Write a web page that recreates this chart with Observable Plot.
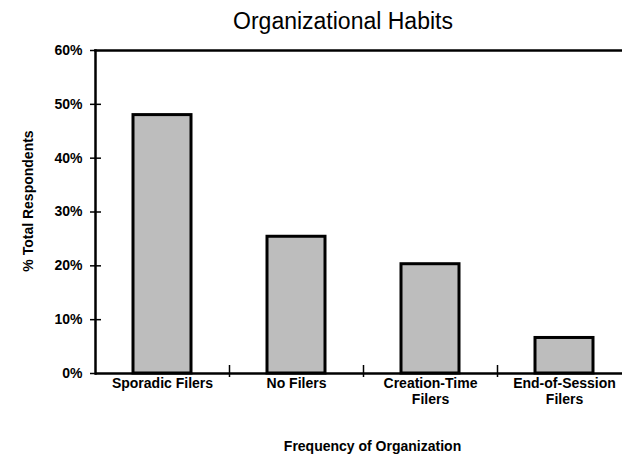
<!DOCTYPE html>
<html><head><meta charset="utf-8">
<script src="https://cdn.jsdelivr.net/npm/d3@7"></script>
<script src="https://cdn.jsdelivr.net/npm/@observablehq/plot@0.6"></script>
<style>
body{margin:0;background:#fff;font-family:"Liberation Sans",Arial,sans-serif;}
#title{box-sizing:border-box;width:622px;height:40px;padding-top:9.5px;padding-left:64px;text-align:center;font-size:23px;line-height:23px;color:#000;}
#chart svg{display:block;}
</style></head><body>
<div id="title">Organizational Habits</div>
<div id="chart"></div>
<script>
const categories = ["Sporadic Filers", "No Filers", "Creation-Time Filers", "End-of-Session Filers"];
const tickLabels = ["Sporadic Filers", "No Filers", "Creation-Time\nFilers", "End-of-Session\nFilers"];
const values = [0.48, 0.254, 0.203, 0.066];
const yTicks = [0, 0.1, 0.2, 0.3, 0.4, 0.5, 0.6];
const yLabel = "% Total Respondents";
const xLabel = "Frequency of Organization";

const data = categories.map((c, i) => ({cat: c, value: values[i]}));
const labelOf = new Map(categories.map((c, i) => [c, tickLabels[i]]));

const width = 622, height = 415, marginLeft = 95, marginRight = -9, marginTop = 10, marginBottom = 82;
const bw = (width - marginLeft - marginRight) / categories.length;

const chart = Plot.plot({
  width, height, marginLeft, marginRight, marginTop, marginBottom,
  style: {fontFamily: '"Liberation Sans", Arial, sans-serif', fontSize: "14px", fontWeight: "bold", color: "black", background: "white", overflow: "visible"},
  x: {domain: categories, padding: 0, axis: null},
  y: {domain: [0, 0.6], axis: null},
  marks: [
    Plot.barY(data, {x: "cat", y: "value", fill: "#bdbdbd", stroke: "black", strokeWidth: 3, insetLeft: 38, insetRight: 38}),
    Plot.axisY({ticks: yTicks, tickFormat: d3.format(".0%"), tickSize: 5, tickPadding: 8, label: null, strokeWidth: 1.5}),
    Plot.axisY({ticks: yTicks.slice(1, -1), tickSize: -6, text: null, label: null, strokeWidth: 1.5}),
    Plot.axisX({tickSize: 0, tickPadding: 3, tickFormat: d => labelOf.get(d), label: null, lineHeight: 1.15}),
    Plot.axisX({ticks: categories.slice(1), tickSize: 4, text: null, label: null, dx: -bw / 2, strokeWidth: 1.5}),
    Plot.axisX({ticks: categories.slice(1), tickSize: -8, text: null, label: null, dx: -bw / 2, strokeWidth: 1.5}),
    Plot.frame({anchor: "left", strokeWidth: 2.5}),
    Plot.frame({anchor: "top", strokeWidth: 2.5}),
    Plot.ruleY([0], {strokeWidth: 2.5}),
    Plot.text([yLabel], {frameAnchor: "left", textAnchor: "middle", lineAnchor: "middle", rotate: -90, dx: -67, dy: -11, fontSize: 14, fontWeight: "bold"}),
    Plot.text([xLabel], {frameAnchor: "bottom", lineAnchor: "bottom", dx: 9, dy: 77, fontSize: 14, fontWeight: "bold"})
  ]
});
document.getElementById("chart").appendChild(chart);
</script>
</body></html>
